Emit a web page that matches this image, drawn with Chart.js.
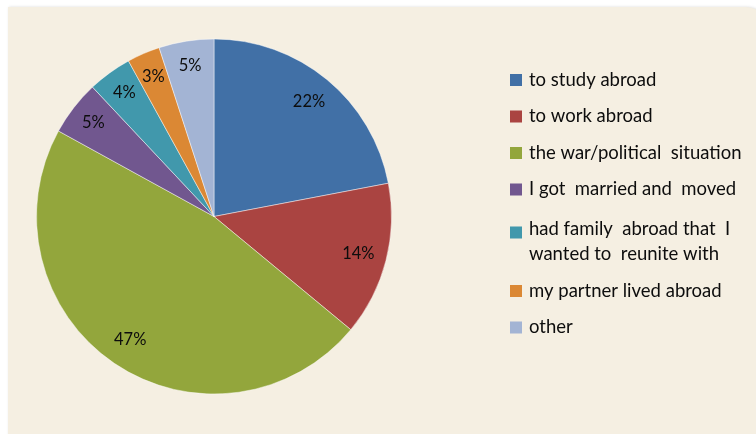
<!DOCTYPE html>
<html>
<head>
<meta charset="utf-8">
<script src="https://cdn.jsdelivr.net/npm/chart.js@4"></script>
<style>
    html, body { margin: 0; padding: 0; background: #fff; }
    #wrap { position: relative; width: 756px; height: 434px; overflow: hidden; }
    #panel {
        position: absolute; left: 8px; top: 7px; width: 760px; height: 440px;
        background: #f5efe2; border-top-right-radius: 22px;
        box-shadow: 1px 0 3px rgba(0,0,0,0.15);
    }
    #pieChart { position: absolute; left: 0; top: 0; }
</style>
</head>
<body>
<div id="wrap">
    <div id="panel"></div>
    <canvas id="pieChart" width="756" height="434"></canvas>
</div>
<script>
    // ─── Data ─────────────────────────────────────────────────────────────────
    const categories = [
        'to study abroad',
        'to work abroad',
        'the war/political  situation',
        'I got  married and  moved',
        ['had family  abroad that  I', 'wanted to  reunite with'],
        'my partner lived abroad',
        'other'
    ];
    const shares = [22, 14, 47, 5, 4, 3, 5];
    const sliceColors = ['#4170a6', '#aa4441', '#93a63c', '#71578f', '#4198ac', '#db8834', '#a3b4d4'];

    const FONT = "Lato, 'Open Sans', sans-serif";

    // percent labels on the slices
    const pctLabels = {
        id: 'pctLabels',
        afterDatasetsDraw(chart) {
            const ctx = chart.ctx;
            const meta = chart.getDatasetMeta(0);
            ctx.save();
            ctx.font = '16.5px ' + FONT;
            ctx.fillStyle = '#0d0d0d';
            ctx.textAlign = 'center';
            ctx.textBaseline = 'middle';
            meta.data.forEach((arc, i) => {
                const p = arc.getProps(['x', 'y', 'startAngle', 'endAngle', 'outerRadius']);
                const mid = (p.startAngle + p.endAngle) / 2;
                const r = p.outerRadius * (shares[i] < 10 ? 0.86 : 0.84);
                ctx.fillText(shares[i] + '%', p.x + Math.cos(mid) * r, p.y + Math.sin(mid) * r);
            });
            ctx.restore();
        }
    };

    // legend on the right, drawn by hand so the two-line entry fits
    const sideLegend = {
        id: 'sideLegend',
        afterDraw(chart) {
            const ctx = chart.ctx;
            ctx.save();
            ctx.font = '18.5px ' + FONT;
            ctx.textBaseline = 'middle';
            let y = 80;
            chart.data.labels.forEach((lab, i) => {
                const lines = Array.isArray(lab) ? lab : [lab];
                if (lines.length > 1) y += 3.5;
                ctx.fillStyle = sliceColors[i];
                ctx.fillRect(510, y - 6 + (lines.length > 1 ? 3 : 0), 12, 12);
                ctx.fillStyle = '#0d0d0d';
                lines.forEach((t, j) => ctx.fillText(t, 529, y + j * 25));
                y += 36.5 + (lines.length - 1) * 25;
            });
            ctx.restore();
        }
    };

    new Chart(document.getElementById('pieChart'), {
        type: 'pie',
        data: {
            labels: categories,
            datasets: [{
                data: shares,
                backgroundColor: sliceColors,
                borderColor: 'rgba(255,255,255,0.45)',
                borderWidth: 1
            }]
        },
        options: {
            responsive: false,
            animation: false,
            layout: { padding: { left: 36, right: 364, top: 38, bottom: 39 } },
            plugins: {
                legend: { display: false },
                tooltip: { enabled: false }
            }
        },
        plugins: [pctLabels, sideLegend]
    });
</script>
</body>
</html>
